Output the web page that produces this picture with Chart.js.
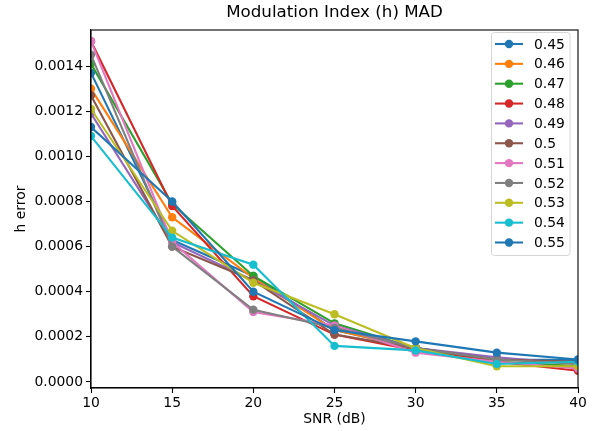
<!DOCTYPE html>
<html>
<head>
<meta charset="utf-8">
<script src="https://cdn.jsdelivr.net/npm/chart.js@4.4.1/dist/chart.umd.min.js"></script>
<style>
html,body{margin:0;padding:0;background:#fff;}
#wrap{width:595px;height:431px;position:relative;}
</style>
</head>
<body>
<div id="wrap"><canvas id="c" width="595" height="431"></canvas></div>
<script>
const snr = [10, 15, 20, 25, 30, 35, 40];
const seriesLabels = ['0.45','0.46','0.47','0.48','0.49','0.5','0.51','0.52','0.53','0.54','0.55'];
const h045 = [0.00137, 0.00063, 0.00047, 0.00023, 0.00015, 0.00010, 0.000098];
const h046 = [0.00130, 0.00073, 0.00046, 0.00023, 0.00015, 0.00009, 0.00007];
const h047 = [0.00141, 0.00079, 0.00047, 0.00026, 0.00015, 0.00009, 0.00007];
const h048 = [0.00151, 0.00078, 0.00038, 0.00021, 0.00014, 0.00009, 0.00005];
const h049 = [0.00119, 0.00062, 0.00045, 0.00025, 0.00015, 0.00011, 0.00008];
const h050 = [0.00127, 0.00060, 0.00045, 0.00021, 0.00015, 0.00010, 0.00009];
const h051 = [0.00151, 0.00062, 0.00031, 0.00025, 0.00013, 0.00009, 0.00006];
const h052 = [0.00145, 0.00060, 0.00032, 0.00024, 0.00015, 0.00010, 0.00008];
const h053 = [0.00121, 0.00067, 0.00044, 0.00030, 0.00015, 0.00007, 0.00007];
const h054 = [0.00109, 0.00064, 0.00052, 0.00016, 0.00014, 0.00008, 0.00009];
const h055 = [0.00113, 0.00080, 0.00040, 0.00023, 0.00018, 0.00013, 0.00010];
const seriesValues = [h045,h046,h047,h048,h049,h050,h051,h052,h053,h054,h055];
const colors = ['#1f77b4','#ff7f0e','#2ca02c','#d62728','#9467bd','#8c564b','#e377c2','#7f7f7f','#bcbd22','#17becf','#1f77b4'];
const yTicks = [0, 0.0002, 0.0004, 0.0006, 0.0008, 0.0010, 0.0012, 0.0014];
const xTicks = [10, 15, 20, 25, 30, 35, 40];

const FONT = "'DejaVu Sans', sans-serif";

const datasets = seriesValues.map((vals, i) => ({
  label: seriesLabels[i],
  data: vals.map((v, j) => ({x: snr[j], y: v})),
  borderColor: colors[i],
  backgroundColor: colors[i],
  borderWidth: 2.1,
  pointRadius: 4.2,
  pointBorderWidth: 0,
  pointHoverRadius: 4.2,
  tension: 0,
  fill: false,
  clip: 0,
  order: -i
}));

const framePlugin = {
  id: 'frame',
  afterDraw(chart) {
    const {ctx, chartArea: a} = chart;
    ctx.save();
    ctx.strokeStyle = '#000';
    ctx.lineWidth = 1.1;
    ctx.strokeRect(a.left, a.top, a.right - a.left, a.bottom - a.top);
    ctx.fillStyle = '#000';
    ctx.font = "16.7px " + FONT;
    ctx.textAlign = 'center';
    ctx.textBaseline = 'middle';
    ctx.fillText('Modulation Index (h) MAD', (a.left + a.right) / 2, 13);
    const lx = 491.5, ly = 32.5, lw = 78.5, lh = 223;
    ctx.globalAlpha = 0.8;
    ctx.fillStyle = '#fff';
    ctx.strokeStyle = '#cccccc';
    ctx.lineWidth = 1;
    ctx.beginPath();
    if (ctx.roundRect) ctx.roundRect(lx, ly, lw, lh, 3); else ctx.rect(lx, ly, lw, lh);
    ctx.fill();
    ctx.stroke();
    ctx.globalAlpha = 1;
    chart.data.datasets.forEach((ds, i) => {
      const y = 44 + i * 19.85;
      ctx.strokeStyle = ds.borderColor;
      ctx.lineWidth = 2.1;
      ctx.beginPath();
      ctx.moveTo(495, y);
      ctx.lineTo(523, y);
      ctx.stroke();
      ctx.fillStyle = ds.borderColor;
      ctx.beginPath();
      ctx.arc(509, y, 4.2, 0, Math.PI * 2);
      ctx.fill();
      ctx.fillStyle = '#000';
      ctx.font = "13.9px " + FONT;
      ctx.textAlign = 'left';
      ctx.textBaseline = 'middle';
      ctx.fillText(ds.label, 534, y + 1);
    });
    ctx.restore();
  }
};

new Chart(document.getElementById('c'), {
  type: 'line',
  data: {datasets},
  plugins: [framePlugin],
  options: {
    responsive: false,
    animation: false,
    devicePixelRatio: 1,
    layout: {padding: {top: 30, right: 17, left: 0, bottom: 0}},
    plugins: {legend: {display: false}, title: {display: false}, tooltip: {enabled: false}},
    scales: {
      x: {
        type: 'linear',
        min: 10, max: 40,
        afterBuildTicks(s) { s.ticks = xTicks.map(v => ({value: v})); },
        afterFit(s) { s.height = 43; },
        grid: {display: true, drawOnChartArea: false, drawTicks: true, tickLength: 5, tickColor: '#000', tickWidth: 1.1},
        border: {display: true, color: '#000', width: 1.1},
        ticks: {color: '#000', font: {family: FONT, size: 13.9}, padding: 2, maxRotation: 0, callback: v => String(v)},
        title: {display: true, text: 'SNR (dB)', color: '#000', font: {family: FONT, size: 13.9}, padding: {top: 0, bottom: 3.5}}
      },
      y: {
        type: 'linear',
        min: -0.0000266, max: 0.00156,
        afterBuildTicks(s) { s.ticks = yTicks.map(v => ({value: v})); },
        afterFit(s) { s.width = 91; },
        grid: {display: true, drawOnChartArea: false, drawTicks: true, tickLength: 5, tickColor: '#000', tickWidth: 1.1},
        border: {display: true, color: '#000', width: 1.1},
        ticks: {color: '#000', font: {family: FONT, size: 13.9}, padding: 3, callback: v => Number(v).toFixed(4)},
        title: {display: true, text: 'h error', color: '#000', font: {family: FONT, size: 13.9}, padding: {top: 13, bottom: 0}}
      }
    }
  }
});
</script>
</body>
</html>
